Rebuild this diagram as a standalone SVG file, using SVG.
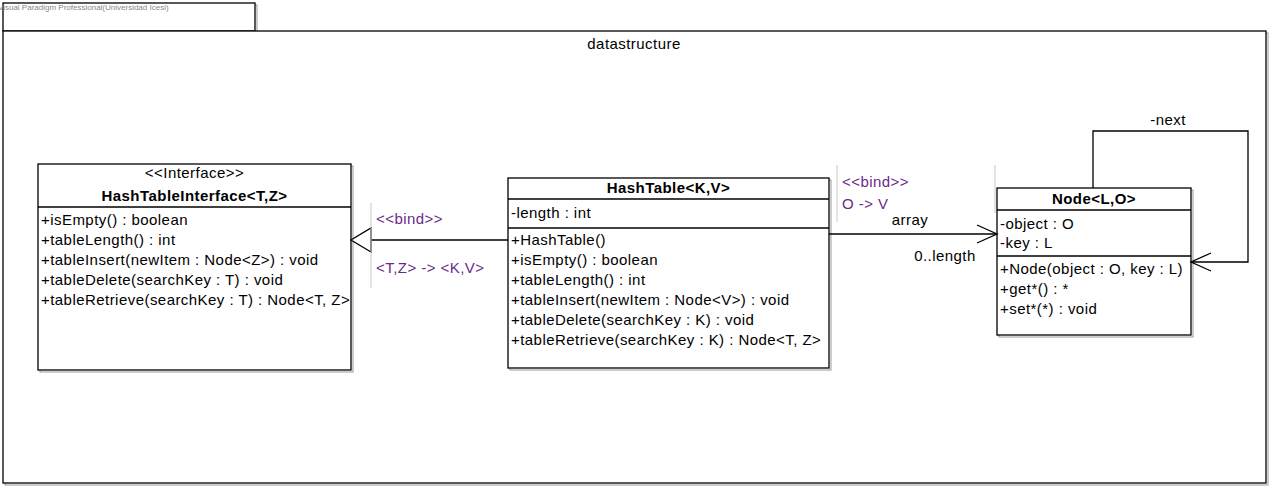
<svg xmlns="http://www.w3.org/2000/svg" width="1273" height="491" viewBox="0 0 1273 491">
<style>
text{font-family:"Liberation Sans",Arial,sans-serif;font-size:15px;letter-spacing:0.45px;fill:#000}
.b{font-weight:bold}
.c{text-anchor:middle}
.box{fill:#fff;stroke:#000;stroke-width:1.3}
.sh{fill:none;stroke:#999;stroke-width:1}
.ln{stroke:#000;stroke-width:1.3;fill:none}
.bind{fill:#6a2a8a}
.gl{stroke:#c8c8c8;stroke-width:1}
.wm{font-size:8px;letter-spacing:0;fill:#888}
</style>
<defs>
<marker id="open" markerWidth="24" markerHeight="24" refX="22" refY="12" orient="auto" markerUnits="userSpaceOnUse">
<path d="M2,3 L22,12 L2,21" fill="none" stroke="#000" stroke-width="1.3"/>
</marker>
<marker id="tri" markerWidth="24" markerHeight="28" refX="21" refY="13" orient="auto" markerUnits="userSpaceOnUse">
<path d="M1,1 L21,13 L1,25 Z" fill="#fff" stroke="#000" stroke-width="1.3"/>
</marker>
</defs>
<rect width="1273" height="491" fill="#fff"/>
<g id="package">
<rect x="5" y="5" width="252" height="28" class="sh"/>
<rect x="5" y="33" width="1263" height="452" class="sh"/>
<rect x="3" y="3" width="252" height="28" class="box"/>
<rect x="3" y="31" width="1263" height="452" class="box"/>
<text x="-2" y="10" class="wm">Visual Paradigm Professional(Universidad Icesi)</text>
<text x="634" y="49" class="c">datastructure</text>
</g>
<g id="HashTableInterface">
<rect x="40" y="166" width="313" height="206" class="sh"/>
<rect x="38" y="164" width="313" height="206" class="box"/>
<line x1="38" y1="207" x2="351" y2="207" class="ln"/>
<text x="194.5" y="178" class="c">&lt;&lt;Interface&gt;&gt;</text>
<text x="194.5" y="201" class="c b">HashTableInterface&lt;T,Z&gt;</text>
<text x="41" y="225">+isEmpty() : boolean</text>
<text x="41" y="245">+tableLength() : int</text>
<text x="41" y="265">+tableInsert(newItem : Node&lt;Z&gt;) : void</text>
<text x="41" y="285">+tableDelete(searchKey : T) : void</text>
<text x="41" y="305">+tableRetrieve(searchKey : T) : Node&lt;T, Z&gt;</text>
</g>
<g id="HashTable">
<rect x="510" y="180" width="321" height="190" class="sh"/>
<rect x="508" y="178" width="321" height="190" class="box"/>
<line x1="508" y1="199" x2="829" y2="199" class="ln"/>
<line x1="508" y1="228" x2="829" y2="228" class="ln"/>
<text x="668.5" y="193" class="c b">HashTable&lt;K,V&gt;</text>
<text x="511" y="218">-length : int</text>
<text x="511" y="245">+HashTable()</text>
<text x="511" y="265">+isEmpty() : boolean</text>
<text x="511" y="285">+tableLength() : int</text>
<text x="511" y="305">+tableInsert(newItem : Node&lt;V&gt;) : void</text>
<text x="511" y="325">+tableDelete(searchKey : K) : void</text>
<text x="511" y="345">+tableRetrieve(searchKey : K) : Node&lt;T, Z&gt;</text>
</g>
<g id="Node">
<rect x="999" y="190" width="194" height="147" class="sh"/>
<rect x="997" y="188" width="194" height="147" class="box"/>
<line x1="997" y1="210" x2="1191" y2="210" class="ln"/>
<line x1="997" y1="256" x2="1191" y2="256" class="ln"/>
<text x="1094" y="204" class="c b">Node&lt;L,O&gt;</text>
<text x="1000" y="229">-object : O</text>
<text x="1000" y="248">-key : L</text>
<text x="1000" y="274">+Node(object : O, key : L)</text>
<text x="1000" y="294">+get*() : *</text>
<text x="1000" y="314">+set*(*) : void</text>
</g>
<g id="connectors">
<line x1="508" y1="240" x2="351" y2="240" class="ln" marker-end="url(#tri)"/>
<line x1="371" y1="203" x2="371" y2="288" class="gl"/>
<text x="376" y="224" class="bind">&lt;&lt;bind&gt;&gt;</text>
<text x="376" y="273" class="bind">&lt;T,Z&gt; -&gt; &lt;K,V&gt;</text>
<line x1="829" y1="234" x2="997" y2="234" class="ln" marker-end="url(#open)"/>
<line x1="837" y1="165" x2="837" y2="222" class="gl"/>
<line x1="995" y1="165" x2="995" y2="213" class="gl"/>
<text x="842" y="187" class="bind">&lt;&lt;bind&gt;&gt;</text>
<text x="842" y="209" class="bind">O -&gt; V</text>
<text x="910" y="225" class="c">array</text>
<text x="945" y="261" class="c">0..length</text>
<polyline points="1093,188 1093,131 1248,131 1248,262 1191,262" class="ln" marker-end="url(#open)"/>
<text x="1168" y="125" class="c">-next</text>
</g>
</svg>
